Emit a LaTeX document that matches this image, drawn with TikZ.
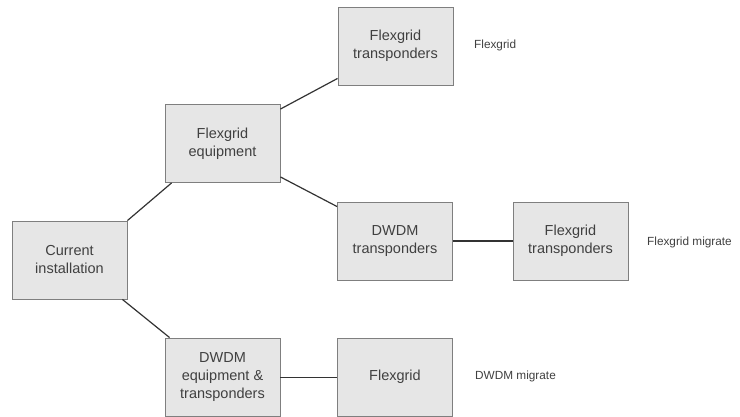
\documentclass[tikz,border=0pt]{standalone}
\usepackage{fontspec}
\setmainfont{Liberation Sans}
\usepackage{tikz}
\usetikzlibrary{positioning}
\usepackage{xcolor}

\definecolor{boxfill}{HTML}{E6E6E6}
\definecolor{boxline}{HTML}{7F7F7F}
\definecolor{txtgray}{HTML}{404040}
\definecolor{linkgray}{HTML}{333333}

\begin{document}
\begin{tikzpicture}[x=1pt, y=-1pt,
    stage/.style={draw=boxline, fill=boxfill, line width=0.9pt, minimum width=115pt, minimum height=78pt,
                  align=center, text=txtgray, font=\fontsize{14.5}{18}\selectfont},
    tag/.style={anchor=west, text=txtgray, font=\fontsize{11.8}{14}\selectfont, inner sep=0pt},
    link/.style={draw=linkgray, line width=1.2pt}]
                \useasboundingbox (0,0) rectangle (740,417);
                % Boxes
                \node[stage] (current) at (69.5,260) {Current\\installation};
                \node[stage] (flexeq) at (222.5,143.5) {Flexgrid\\equipment};
                \node[stage] (flextr) at (395.5,46) {Flexgrid\\transponders};
                \node[stage] (dwdmtr) at (395,241) {DWDM\\transponders};
                \node[stage] (flextrb) at (570.5,241) {Flexgrid\\transponders};
                \node[stage] (dwdmeq) at (222.5,377) {DWDM\\equipment \&\\transponders};
                \node[stage] (flexgrid) at (395,377) {Flexgrid};

                % Labels
                \node[tag] (lflex) at (474,45) {Flexgrid};
                \node[tag] (lflexmig) at (647,242) {Flexgrid migrate};
                \node[tag] (ldwdmmig) at (475,376) {DWDM migrate};

                % Links
                \draw[link] (current.north east) -- ([xshift=7pt]flexeq.south west);
                \draw[link] ([xshift=-5pt]current.south east) -- ([xshift=5pt]dwdmeq.north west);
                \draw[link] ([yshift=-5pt]flexeq.north east) -- ([yshift=7pt]flextr.south west);
                \draw[link] ([yshift=6pt]flexeq.south east) -- ([yshift=-5pt]dwdmtr.north west);
                \draw[link] (dwdmtr) -- (flextrb);
                \draw[link, line width=0.9pt] (dwdmeq) -- (flexgrid);
            \end{tikzpicture}
\end{document}
